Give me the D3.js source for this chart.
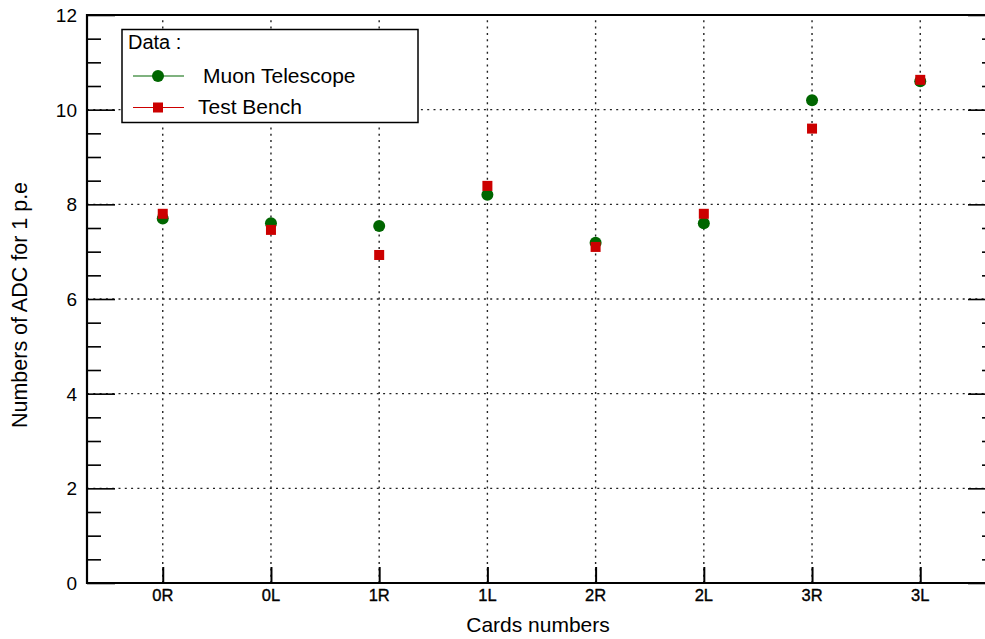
<!DOCTYPE html>
<html>
<head>
<meta charset="utf-8">
<script src="https://cdn.jsdelivr.net/npm/d3@7"></script>
<style>
  html, body { margin: 0; padding: 0; background: #fff; }
  svg { display: block; font-family: "Liberation Sans", Arial, sans-serif; }
</style>
</head>
<body>
<svg id="chart" width="985" height="639"></svg>
<script>
// ---- data ----
const categories = ["0R", "0L", "1R", "1L", "2R", "2L", "3R", "3L"];
const muonTelescope = [7.70, 7.60, 7.54, 8.20, 7.19, 7.60, 10.20, 10.60];
const testBench = [7.80, 7.46, 6.93, 8.39, 7.10, 7.80, 9.60, 10.63];
const yMajorTicks = [0, 2, 4, 6, 8, 10, 12];
const yMinorTicks = d3.range(0, 12.01, 0.5).filter(v => v % 2 !== 0);
const seriesNames = ["Muon Telescope", "Test Bench"];
const legendTitle = "Data :";
const xTitle = "Cards numbers";
const yTitle = "Numbers of ADC for 1 p.e";

// ---- layout ----
const L = 87, R = 996, T = 15, B = 583;
const svg = d3.select("#chart");

const x = d3.scaleLinear().domain([-0.7, categories.length - 0.3]).range([L, R]);
const y = d3.scaleLinear().domain([0, 12]).range([B, T]);

const green = "#006600", red = "#cc0000";

// grid
const grid = svg.append("g").attr("stroke", "#222").attr("stroke-width", 1.4)
  .attr("stroke-dasharray", "2,4.3").attr("fill", "none");
categories.forEach((c, i) => {
  grid.append("line").attr("x1", x(i)).attr("x2", x(i)).attr("y1", B).attr("y2", T);
});
yMajorTicks.filter(v => v > 0 && v < 12).forEach(v => {
  grid.append("line").attr("x1", L).attr("x2", R).attr("y1", y(v)).attr("y2", y(v));
});

// frame lines (left, top, bottom)
const frame = svg.append("g").attr("stroke", "#000").attr("stroke-width", 2.2);
frame.append("line").attr("x1", L).attr("x2", L).attr("y1", T - 1).attr("y2", B + 1);
frame.append("line").attr("x1", L).attr("x2", R).attr("y1", T).attr("y2", T);
frame.append("line").attr("x1", L).attr("x2", R).attr("y1", B).attr("y2", B);

// y axis (left) via d3 axis
const yAxisL = d3.axisRight(y).tickValues(yMajorTicks).tickSize(28).tickFormat("");
const gyl = svg.append("g").attr("transform", `translate(${L},0)`).call(yAxisL);
gyl.select(".domain").remove();
gyl.selectAll(".tick line").attr("stroke", "#000").attr("stroke-width", 1.6);
const yAxisLm = d3.axisRight(y).tickValues(yMinorTicks).tickSize(14).tickFormat("");
const gylm = svg.append("g").attr("transform", `translate(${L},0)`).call(yAxisLm);
gylm.select(".domain").remove();
gylm.selectAll(".tick line").attr("stroke", "#000").attr("stroke-width", 1.6);

// y labels
svg.append("g").selectAll("text").data(yMajorTicks).join("text")
  .attr("x", 77).attr("y", d => y(d)).attr("dy", "0.36em")
  .attr("text-anchor", "end").attr("font-size", 19).attr("fill", "#000")
  .text(d => d);

// right mirrored ticks
const yAxisR = d3.axisLeft(y).tickValues(yMajorTicks).tickSize(28).tickFormat("");
const gyr = svg.append("g").attr("transform", `translate(${R},0)`).call(yAxisR);
gyr.select(".domain").remove();
gyr.selectAll(".tick line").attr("stroke", "#000").attr("stroke-width", 1.6);
const yAxisRm = d3.axisLeft(y).tickValues(yMinorTicks).tickSize(14).tickFormat("");
const gyrm = svg.append("g").attr("transform", `translate(${R},0)`).call(yAxisRm);
gyrm.select(".domain").remove();
gyrm.selectAll(".tick line").attr("stroke", "#000").attr("stroke-width", 1.6);

// x axis ticks
const xAxis = d3.axisTop(x).tickValues(d3.range(categories.length)).tickSize(16).tickFormat("");
const gx = svg.append("g").attr("transform", `translate(0,${B})`).call(xAxis);
gx.select(".domain").remove();
gx.selectAll(".tick line").attr("stroke", "#000").attr("stroke-width", 2);

// x labels
svg.append("g").selectAll("text").data(categories).join("text")
  .attr("x", (d, i) => x(i)).attr("y", 600.5)
  .attr("text-anchor", "middle").attr("font-size", 16.5)
  .attr("stroke", "#000").attr("stroke-width", 0.35)
  .attr("fill", "#000").text(d => d);

// axis titles
svg.append("text").attr("x", 538).attr("y", 632).attr("text-anchor", "middle")
  .attr("font-size", 21).attr("fill", "#000").text(xTitle);
svg.append("text").attr("transform", `translate(27,305) rotate(-90)`)
  .attr("text-anchor", "middle").attr("font-size", 21.5).attr("fill", "#000").text(yTitle);

// data points
const pts = svg.append("g");
pts.selectAll("circle").data(muonTelescope).join("circle")
  .attr("cx", (d, i) => x(i)).attr("cy", d => y(d)).attr("r", 6).attr("fill", green);
const sq = 10;
pts.selectAll("rect").data(testBench).join("rect")
  .attr("x", (d, i) => x(i) - sq / 2).attr("y", d => y(d) - sq / 2)
  .attr("width", sq).attr("height", sq).attr("fill", red);

// legend
const lg = svg.append("g");
lg.append("rect").attr("x", 122).attr("y", 29.5).attr("width", 296).attr("height", 93)
  .attr("fill", "#fff").attr("stroke", "#000").attr("stroke-width", 1.5);
lg.append("text").attr("x", 128).attr("y", 49).attr("font-size", 20).attr("fill", "#000").text(legendTitle);
const ly = [76, 107.5];
lg.append("line").attr("x1", 133).attr("x2", 184).attr("y1", ly[0]).attr("y2", ly[0]).attr("stroke", green).attr("stroke-width", 1.2);
lg.append("circle").attr("cx", 158).attr("cy", ly[0]).attr("r", 6).attr("fill", green);
lg.append("line").attr("x1", 133).attr("x2", 184).attr("y1", ly[1]).attr("y2", ly[1]).attr("stroke", red).attr("stroke-width", 1.2);
lg.append("rect").attr("x", 158 - sq / 2).attr("y", ly[1] - sq / 2).attr("width", sq).attr("height", sq).attr("fill", red);
lg.append("text").attr("x", 203).attr("y", 83).attr("font-size", 21).attr("fill", "#000").text(seriesNames[0]);
lg.append("text").attr("x", 198).attr("y", 114).attr("font-size", 21).attr("fill", "#000").text(seriesNames[1]);
</script>
</body>
</html>
